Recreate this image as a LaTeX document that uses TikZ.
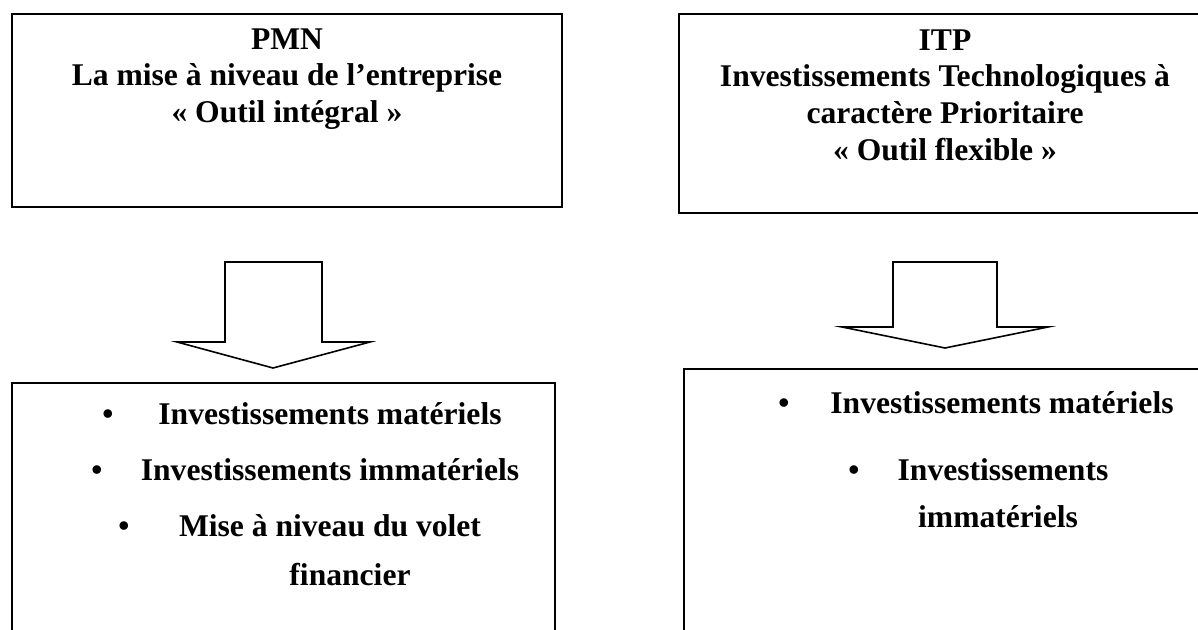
\documentclass[tikz,border=0pt]{standalone}
\usepackage{fontspec}
\setmainfont{Liberation Serif}
\begin{document}
\begin{tikzpicture}[x=0.5pt, y=-0.5pt,
        frame/.style={line width=1.1pt},
        blockarrow/.style={line width=0.8pt, fill=white, line join=miter},
        label/.style={font=\fontsize{15.8}{18.3}\selectfont\bfseries, align=center, inner sep=0pt},
        dot/.style={font=\fontsize{15.8}{18.3}\selectfont\bfseries, inner sep=0pt, anchor=base}]
        \useasboundingbox (0,0) rectangle (1198,630);
        \clip (0,0) rectangle (1198,630);

        % Boxes
        \draw[frame] (12,14) rectangle (562,207);
        \draw[frame] (679,14) rectangle (1215,213);
        \draw[frame] (12,383) rectangle (555,660);
        \draw[frame] (684,369) rectangle (1215,660);

        % Headers
        \node[label] (pmn) at (287,79) {PMN\\La mise à niveau de l’entreprise\\« Outil intégral »};
        \node[label] (itp) at (945,95) {ITP\\Investissements Technologiques à\\caractère Prioritaire\\« Outil flexible »};

        % Block arrows
        \draw[blockarrow] (225,262) -- (322,262) -- (322,342) -- (370,342) -- (273,368)
            -- (177,342) -- (225,342) -- cycle;
        \draw[blockarrow] (893,262) -- (997,262) -- (997,327) -- (1048,327) -- (945,348)
            -- (842,327) -- (893,327) -- cycle;

        % Items, PMN
        \foreach \x/\y/\txt [count=\i] in {330/424/Investissements matériels, 330/480/Investissements immatériels, 330/536/Mise à niveau du volet, 350/585/financier}
            \node[label, anchor=base] (pmn-\i) at (\x,\y) {\txt};
        \foreach \b/\y in {108/424, 97/480, 124/536}
            \node[dot] at (\b,\y) {\textbullet};

        % Items, ITP
        \foreach \x/\y/\txt [count=\i] in {1002/413/Investissements matériels, 1003/480/Investissements, 998/527/immatériels}
            \node[label, anchor=base] (itp-\i) at (\x,\y) {\txt};
        \foreach \b/\y in {784/413, 854/480}
            \node[dot] at (\b,\y) {\textbullet};
    \end{tikzpicture}
\end{document}
